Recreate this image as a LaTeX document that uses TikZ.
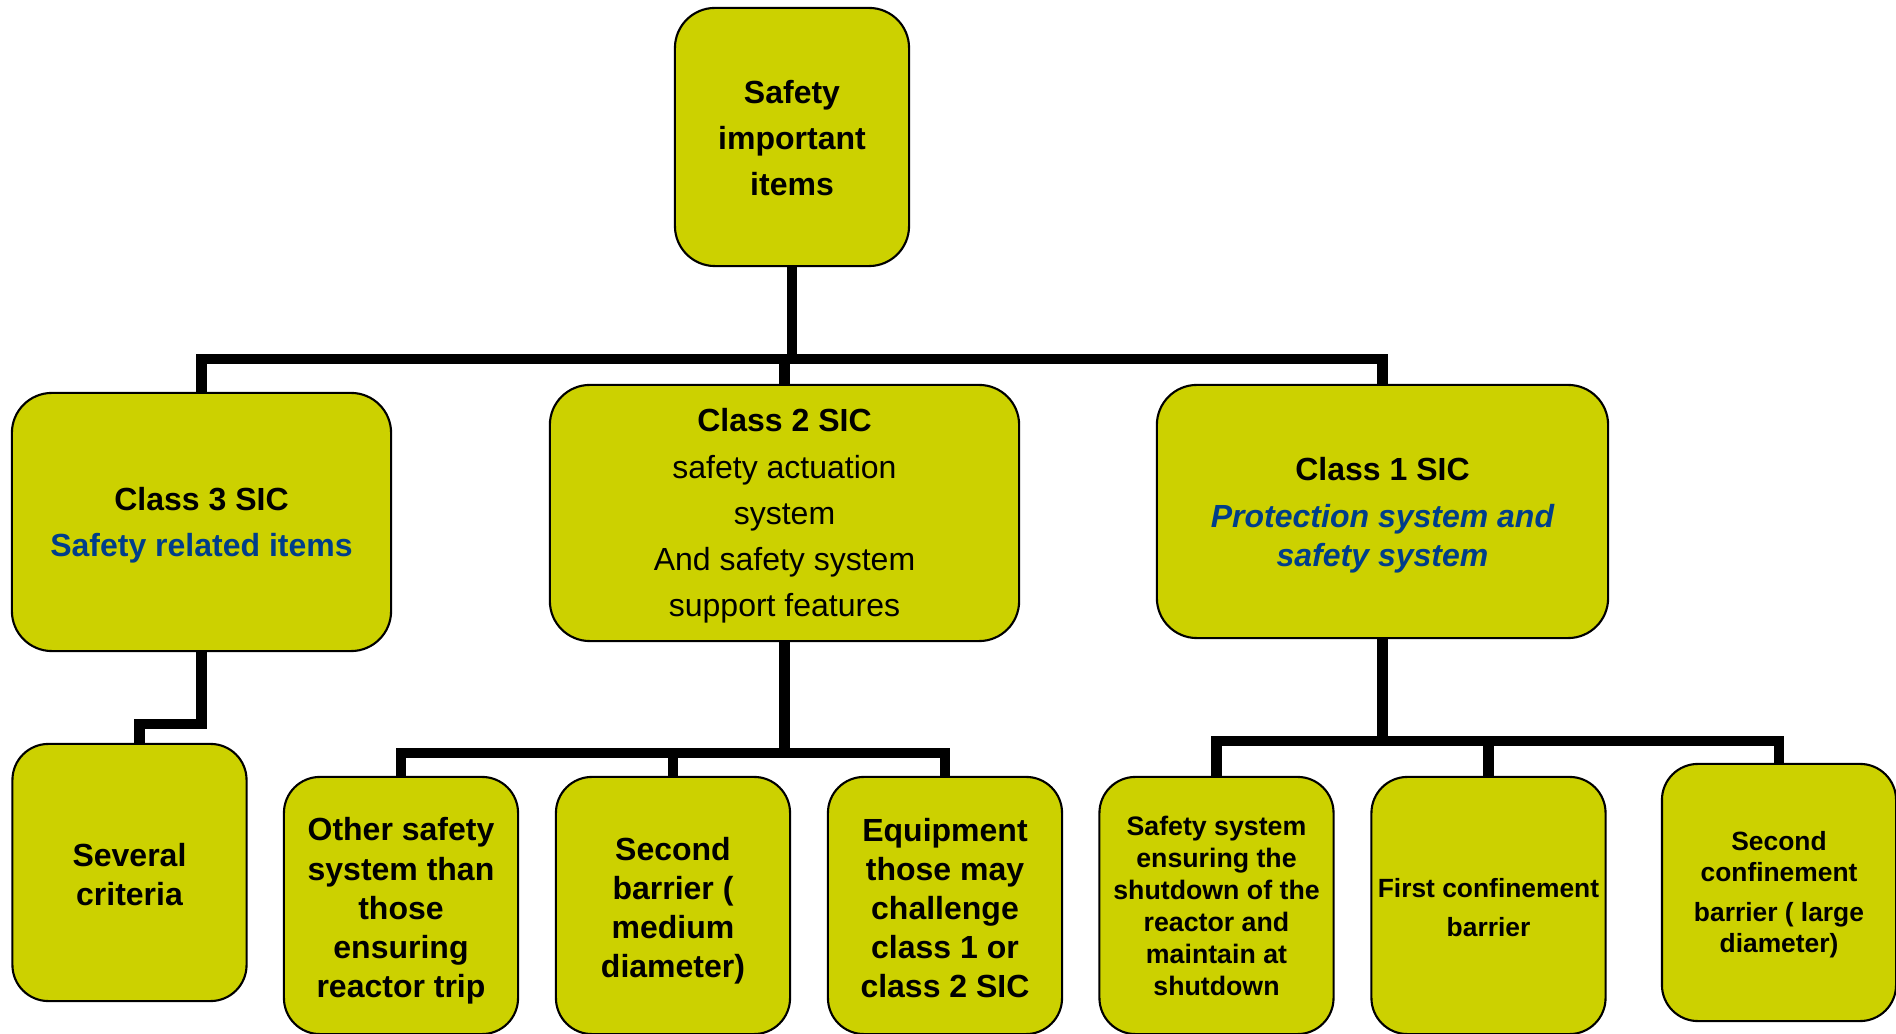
\documentclass[tikz,border=0pt]{standalone}
\usepackage{fontspec}
\setmainfont{Liberation Sans}
\usepackage{tikz}
\usetikzlibrary{calc}

\definecolor{sicgreen}{RGB}{204,209,0}
\definecolor{sicblue}{RGB}{0,62,138}

\begin{document}
\begin{tikzpicture}[x=0.01cm,y=-0.01cm,
    sicbox/.style={draw=black, line width=0.6pt, fill=sicgreen, rounded corners=0.4cm,
      align=center, inner sep=0pt, font=\bfseries\fontsize{9.1}{13.1}\selectfont},
    leafbox/.style={sicbox, rounded corners=0.36cm, minimum width=2.34cm, minimum height=2.57cm,
      font=\bfseries\fontsize{9.1}{11.1}\selectfont},
    link/.style={line width=3pt}]
  \useasboundingbox (0,0) rectangle (1896,1034);

  % Levels of the tree
  \coordinate (bar0) at (0,359);
  \coordinate (bar1) at (0,741);
  \coordinate (bar2) at (0,753);

  % Root
  \node[sicbox, minimum width=2.34cm, minimum height=2.58cm] (sii) at (792,137)
    {\rule{0pt}{7.2pt}Safety\\important\\items};

  % Classes
  \node[sicbox, minimum width=3.79cm, minimum height=2.58cm] (c3) at (201.5,522)
    {\rule{0pt}{8.4pt}Class 3 SIC\\\textcolor{sicblue}{Safety related items}};
  \node[sicbox, minimum width=4.69cm, minimum height=2.56cm] (c2) at (784.5,513)
    {\rule{0pt}{8.2pt}Class 2 SIC\\\mdseries safety actuation\\\mdseries system\\\mdseries And safety system\\\mdseries support features};
  \node[sicbox, minimum width=4.51cm, minimum height=2.53cm,
        font=\bfseries\fontsize{9.1}{11.1}\selectfont] (c1) at (1382.5,511.5)
    {\rule{0pt}{8.6pt}Class 1 SIC\\[2.3pt]\textcolor{sicblue}{\itshape Protection system and}\\\textcolor{sicblue}{\itshape safety system}};

  % Leaves
  \node[leafbox] (sev) at (129.5,872.5) {\rule{0pt}{7.5pt}Several\\criteria};
  \node[leafbox] (oth) at (401,905.5) {\rule{0pt}{9.6pt}Other safety\\system than\\those\\ensuring\\reactor trip};
  \node[leafbox] (sbm) at (673,905.5) {\rule{0pt}{9.6pt}Second\\barrier (\\medium\\diameter)};
  \node[leafbox] (eqp) at (945,905.5) {\rule{0pt}{8pt}Equipment\\those may\\challenge\\class 1 or\\class 2 SIC};
  \node[leafbox, font=\bfseries\fontsize{7.6}{9.1}\selectfont] (ssd) at (1216.5,905.5)
    {Safety system\\ensuring the\\shutdown of the\\reactor and\\maintain at\\shutdown};
  \node[leafbox, font=\bfseries\fontsize{7.5}{11.1}\selectfont] (fcb) at (1488.5,905.5)
    {\rule{0pt}{6.6pt}First confinement\\barrier};
  \node[leafbox, font=\bfseries\fontsize{7.5}{8.9}\selectfont] (scb) at (1779,892.5)
    {\rule{0pt}{6.6pt}Second\\confinement\\[2.5pt]barrier ( large\\diameter)};

  % Root to classes
  \draw[link] (c3.north) -- (c3.north |- bar0) -- (c1.north |- bar0) -- (c1.north);
  \draw[link] (sii.south) -- (sii.south |- bar0);
  \draw[link] (c2.north) -- (c2.north |- bar0);

  % Class 3
  \draw[link] (c3.south) -- ++(0,72) -| ([xshift=0.1cm]sev.north);

  % Class 2
  \draw[link] (oth.north) -- (oth.north |- bar2) -- (eqp.north |- bar2) -- (eqp.north);
  \draw[link] (c2.south) -- (c2.south |- bar2);
  \draw[link] (sbm.north) -- (sbm.north |- bar2);

  % Class 1
  \draw[link] (ssd.north) -- (ssd.north |- bar1) -- (scb.north |- bar1) -- (scb.north);
  \draw[link] (c1.south) -- (c1.south |- bar1);
  \draw[link] (fcb.north) -- (fcb.north |- bar1);
\end{tikzpicture}
\end{document}
